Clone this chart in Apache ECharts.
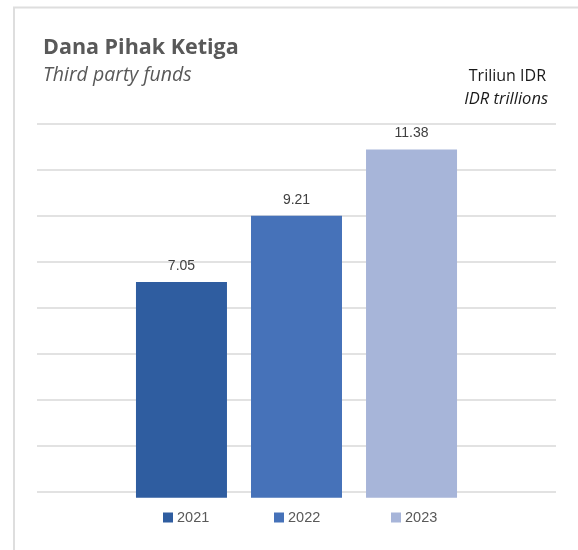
<!DOCTYPE html>
<html>
<head>
<meta charset="utf-8">
<script src="https://cdn.jsdelivr.net/npm/echarts@6/dist/echarts.min.js"></script>
<style>
  html, body { margin: 0; padding: 0; background: #ffffff; }
  #chart { width: 578px; height: 550px; }
</style>
</head>
<body>
<div id="chart"></div>
<script>
// Third party funds, IDR trillions, by year
const years = ['2021', '2022', '2023'];
const funds = [7.05, 9.21, 11.38];
const barColors = ['#2F5DA0', '#4672B9', '#A7B5D9'];
const legendLefts = [163, 274, 391];

const chart = echarts.init(document.getElementById('chart'), null, { renderer: 'canvas' });

const series = years.map((y, i) => ({
  name: y,
  type: 'bar',
  xAxisIndex: 0,
  yAxisIndex: 0,
  data: [funds[i]],
  barWidth: 91,
  barGap: '26.4%',
  itemStyle: { color: barColors[i] },
  label: {
    show: true,
    position: 'top',
    distance: 9,
    fontFamily: 'Liberation Sans',
    fontSize: 14,
    color: '#404040',
    formatter: p => p.value.toFixed(2)
  },
  z: 3
}));

const legends = years.map((y, i) => ({
  data: [y],
  left: legendLefts[i],
  top: 510,
  padding: 0,
  itemWidth: 10,
  itemHeight: 10,
  itemGap: 4,
  icon: 'rect',
  selectedMode: false,
  textStyle: { fontFamily: 'Liberation Sans', fontSize: 14.5, color: '#595959', padding: [0, 0, 0, -1] }
}));

const option = {
  animation: false,
  backgroundColor: '#ffffff',
  legend: legends,
  grid: [
    { left: 37, right: 22, top: 130.4, bottom: 52.3 },
    { left: 37, right: 22, top: 123.3, bottom: 58.3 }
  ],
  xAxis: [
    { type: 'category', gridIndex: 0, data: ['Dana Pihak Ketiga'], show: false },
    { type: 'category', gridIndex: 1, data: [''], show: false }
  ],
  yAxis: [
    { type: 'value', gridIndex: 0, min: 0, max: 12, show: false, splitLine: { show: false } },
    {
      type: 'value', gridIndex: 1, min: 0, max: 8, interval: 1,
      axisLabel: { show: false }, axisLine: { show: false }, axisTick: { show: false },
      splitLine: { show: true, lineStyle: { color: '#d9d9d9', width: 1.5 } }
    }
  ],
  series: series,
  graphic: [
    {
      type: 'rect', silent: true, z: 0,
      shape: { x: 14, y: 7.5, width: 700, height: 700 },
      style: { fill: null, stroke: '#dedede', lineWidth: 2 }
    },
    {
      type: 'text', left: 43, top: 37, silent: true,
      style: { text: 'Dana Pihak Ketiga', font: 'bold 21.5px "Open Sans"', fill: '#595959' }
    },
    {
      type: 'text', left: 43, top: 65, silent: true,
      style: { text: 'Third party funds', font: 'italic 19.5px "Open Sans"', fill: '#595959' }
    },
    {
      type: 'text', right: 32, top: 68, silent: true,
      style: { text: 'Triliun IDR', font: '16px "Open Sans"', fill: '#1a1a1a', align: 'right' }
    },
    {
      type: 'text', right: 30, top: 91, silent: true,
      style: { text: 'IDR trillions', font: 'italic 16.5px "Open Sans"', fill: '#1a1a1a', align: 'right' }
    }
  ]
};

chart.setOption(option);
</script>
</body>
</html>
